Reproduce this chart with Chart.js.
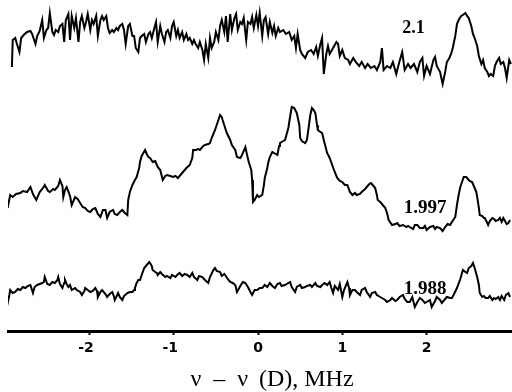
<!DOCTYPE html>
<html>
<head>
<meta charset="utf-8">
<title>Espectros</title>
<script src="https://cdn.jsdelivr.net/npm/chart.js@4.4.1/dist/chart.umd.min.js"></script>
<style>
    html, body { margin: 0; padding: 0; background: #fff; }
    #contenedor { width: 512px; height: 392px; }
</style>
</head>
<body>
<div id="contenedor"><canvas id="espectrosChart"></canvas></div>
<script>
// Traza "2.1" (frecuencia en MHz, intensidad en unidades arbitrarias)
const frec21 = [
    -2.92,-2.91,-2.88,-2.86,-2.83,-2.81,-2.78,-2.74,-2.70,-2.68,
    -2.64,-2.62,-2.59,-2.56,-2.54,-2.51,-2.49,-2.47,-2.44,-2.42,
    -2.40,-2.37,-2.35,-2.32,-2.30,-2.28,-2.25,-2.23,-2.21,-2.18,
    -2.16,-2.13,-2.11,-2.09,-2.06,-2.04,-2.02,-1.99,-1.97,-1.95,
    -1.92,-1.90,-1.87,-1.85,-1.83,-1.80,-1.78,-1.76,-1.73,-1.71,
    -1.68,-1.66,-1.64,-1.61,-1.59,-1.57,-1.54,-1.52,-1.49,-1.47,
    -1.45,-1.42,-1.40,-1.38,-1.35,-1.33,-1.30,-1.28,-1.26,-1.23,
    -1.21,-1.19,-1.16,-1.14,-1.11,-1.09,-1.07,-1.04,-1.02,-1.00,
    -0.97,-0.95,-0.93,-0.90,-0.88,-0.85,-0.83,-0.81,-0.78,-0.76,
    -0.74,-0.71,-0.69,-0.66,-0.64,-0.62,-0.59,-0.57,-0.55,-0.52,
    -0.50,-0.47,-0.45,-0.43,-0.40,-0.38,-0.36,-0.33,-0.31,-0.28,
    -0.26,-0.24,-0.21,-0.19,-0.17,-0.14,-0.12,-0.09,-0.07,-0.05,
    -0.02,0.00,0.02,0.05,0.07,0.09,0.12,0.14,0.17,0.19,
    0.21,0.24,0.26,0.30,0.33,0.37,0.40,0.43,0.45,0.47,
    0.50,0.52,0.56,0.59,0.63,0.66,0.69,0.71,0.74,0.76,
    0.78,0.81,0.83,0.85,0.89,0.93,0.95,0.97,1.00,1.03,
    1.07,1.09,1.13,1.16,1.20,1.23,1.27,1.30,1.34,1.38,
    1.41,1.45,1.47,1.49,1.53,1.57,1.60,1.64,1.67,1.71,
    1.74,1.78,1.81,1.85,1.89,1.92,1.95,1.97,2.00,2.04,
    2.08,2.10,2.12,2.16,2.19,2.22,2.24,2.27,2.29,2.31,
    2.34,2.36,2.38,2.41,2.43,2.46,2.48,2.50,2.53,2.55,
    2.57,2.60,2.62,2.65,2.67,2.69,2.72,2.74,2.76,2.79,
    2.81,2.83,2.86,2.88,2.91,2.93,2.95,2.98,3.00
];
const int21 = [
    23,50,52,46,38,52,55,58,59,56,
    46,54,59,70,52,60,62,77,58,55,
    60,58,64,66,48,70,76,50,74,62,
    72,48,68,74,62,68,76,60,70,66,
    74,54,70,74,70,74,62,57,60,58,
    62,60,64,66,60,46,64,66,54,54,
    42,38,52,54,56,48,56,58,52,62,
    68,48,64,56,48,58,60,52,64,68,
    54,60,52,58,50,56,50,52,46,50,
    46,42,48,40,30,46,32,52,42,48,
    58,50,64,70,58,74,48,76,60,72,
    76,60,68,66,72,50,68,66,73,62,
    75,64,77,54,70,73,56,68,57,64,
    54,62,58,60,56,58,50,54,42,56,
    40,36,32,38,40,36,43,34,46,52,
    16,36,44,36,42,48,46,34,40,32,
    30,26,32,28,24,28,22,26,22,24,
    20,28,42,20,24,22,28,16,26,38,
    20,26,22,26,18,28,32,14,24,16,
    30,33,24,18,6,18,28,32,36,42,
    54,66,70,74,75,77,74,72,64,56,
    52,44,34,26,30,22,18,14,16,14,
    24,28,32,26,28,22,12,30,26
];

// Traza "1.997"
const frec1997 = [
    -2.97,-2.94,-2.91,-2.87,-2.82,-2.79,-2.74,-2.70,-2.67,-2.63,
    -2.59,-2.55,-2.53,-2.49,-2.47,-2.43,-2.41,-2.37,-2.35,-2.32,
    -2.31,-2.29,-2.27,-2.23,-2.21,-2.17,-2.14,-2.11,-2.08,-2.05,
    -2.02,-1.99,-1.96,-1.93,-1.90,-1.87,-1.84,-1.81,-1.79,-1.76,
    -1.72,-1.70,-1.67,-1.64,-1.61,-1.58,-1.55,-1.54,-1.52,-1.49,
    -1.46,-1.44,-1.41,-1.40,-1.38,-1.34,-1.32,-1.30,-1.28,-1.25,
    -1.22,-1.19,-1.16,-1.13,-1.10,-1.08,-1.04,-1.01,-0.98,-0.95,
    -0.93,-0.89,-0.85,-0.81,-0.78,-0.77,-0.74,-0.71,-0.69,-0.65,
    -0.63,-0.59,-0.57,-0.55,-0.51,-0.47,-0.45,-0.43,-0.42,-0.39,
    -0.37,-0.33,-0.31,-0.27,-0.25,-0.21,-0.19,-0.15,-0.13,-0.11,
    -0.08,-0.07,-0.06,-0.04,-0.01,0.01,0.05,0.07,0.08,0.11,
    0.12,0.14,0.17,0.19,0.23,0.25,0.26,0.30,0.32,0.34,
    0.36,0.38,0.40,0.43,0.46,0.49,0.50,0.52,0.56,0.58,
    0.60,0.62,0.64,0.66,0.68,0.70,0.71,0.74,0.76,0.78,
    0.82,0.85,0.88,0.91,0.94,0.97,1.00,1.03,1.06,1.09,
    1.12,1.15,1.17,1.21,1.23,1.27,1.29,1.32,1.34,1.36,
    1.39,1.41,1.42,1.45,1.48,1.51,1.53,1.55,1.59,1.63,
    1.65,1.68,1.72,1.76,1.78,1.80,1.84,1.86,1.89,1.92,
    1.96,1.98,2.00,2.04,2.08,2.10,2.12,2.16,2.19,2.22,
    2.25,2.28,2.30,2.34,2.36,2.38,2.40,2.42,2.44,2.47,
    2.49,2.51,2.54,2.56,2.59,2.60,2.62,2.63,2.66,2.68,
    2.69,2.72,2.73,2.75,2.78,2.80,2.82,2.85,2.87,2.89,
    2.91,2.93,2.95,2.97,2.99
];
const int1997 = [
    27,40,38,41,42,44,43,48,41,35,
    43,47,50,44,43,46,45,49,55,49,
    38,45,48,39,30,38,36,32,28,27,
    24,23,26,27,21,18,25,25,17,23,
    25,21,20,23,25,22,20,35,43,50,
    55,58,67,73,79,85,81,78,77,73,
    74,68,65,55,59,60,59,58,59,57,
    59,63,67,70,77,85,85,86,85,89,
    90,91,92,97,105,115,120,118,115,107,
    102,95,90,85,78,77,80,88,80,73,
    65,55,33,35,40,38,40,50,57,67,
    72,78,83,82,80,89,92,94,95,101,
    107,118,128,127,122,110,97,94,92,95,
    107,120,127,125,122,110,105,103,102,95,
    82,77,70,63,57,54,53,50,50,43,
    40,42,40,41,43,46,48,51,52,50,
    47,40,35,33,30,27,22,15,10,11,
    12,9,10,8,9,8,6,10,10,7,
    7,9,5,8,9,6,8,7,4,8,
    11,10,13,18,30,40,48,53,58,58,
    56,54,53,49,43,38,27,20,19,17,
    17,12,10,14,17,16,14,15,17,13,
    17,14,11,12,15
];

// Traza "1.988"
const frec1988 = [
    -2.98,-2.95,-2.94,-2.91,-2.88,-2.85,-2.82,-2.79,-2.76,-2.73,
    -2.70,-2.67,-2.65,-2.62,-2.59,-2.56,-2.54,-2.53,-2.50,-2.47,
    -2.44,-2.41,-2.38,-2.37,-2.35,-2.32,-2.30,-2.29,-2.27,-2.25,
    -2.23,-2.21,-2.17,-2.15,-2.11,-2.09,-2.06,-2.05,-2.02,-1.99,
    -1.96,-1.93,-1.91,-1.90,-1.87,-1.85,-1.81,-1.79,-1.76,-1.73,
    -1.71,-1.70,-1.67,-1.66,-1.64,-1.61,-1.59,-1.55,-1.52,-1.49,
    -1.47,-1.46,-1.44,-1.42,-1.40,-1.38,-1.35,-1.33,-1.32,-1.29,
    -1.28,-1.26,-1.25,-1.22,-1.20,-1.19,-1.16,-1.14,-1.10,-1.08,
    -1.04,-1.02,-0.98,-0.96,-0.93,-0.90,-0.87,-0.84,-0.81,-0.78,
    -0.76,-0.72,-0.70,-0.66,-0.63,-0.59,-0.57,-0.53,-0.51,-0.49,
    -0.45,-0.43,-0.40,-0.39,-0.36,-0.33,-0.30,-0.27,-0.25,-0.21,
    -0.18,-0.15,-0.12,-0.09,-0.07,-0.04,-0.01,0.02,0.05,0.08,
    0.11,0.14,0.17,0.20,0.23,0.26,0.28,0.32,0.34,0.38,
    0.40,0.44,0.46,0.50,0.52,0.56,0.58,0.62,0.64,0.68,
    0.70,0.74,0.76,0.79,0.82,0.85,0.87,0.89,0.91,0.95,
    0.97,1.00,1.02,1.06,1.08,1.09,1.12,1.15,1.17,1.21,
    1.23,1.27,1.29,1.33,1.35,1.39,1.41,1.45,1.47,1.51,
    1.53,1.57,1.59,1.63,1.65,1.68,1.72,1.74,1.77,1.80,
    1.83,1.86,1.89,1.92,1.95,1.98,2.00,2.04,2.06,2.10,
    2.12,2.16,2.18,2.22,2.24,2.28,2.30,2.32,2.36,2.40,
    2.43,2.46,2.48,2.50,2.53,2.55,2.57,2.60,2.62,2.63,
    2.66,2.68,2.70,2.73,2.75,2.78,2.80,2.82,2.85,2.87,
    2.89,2.92,2.94,2.97,2.99
];
const int1988 = [
    3,15,20,17,18,21,20,23,22,24,
    25,17,23,25,26,27,28,33,26,25,
    28,27,30,33,26,22,27,30,26,23,
    25,20,22,20,18,15,19,22,20,18,
    19,22,19,13,18,20,16,13,16,18,
    14,10,15,17,13,10,14,17,18,18,
    20,22,27,30,30,35,42,44,45,48,
    47,44,40,38,37,35,38,36,33,34,
    32,35,33,35,37,34,36,35,33,37,
    33,30,34,33,30,27,33,40,42,39,
    38,34,36,35,31,28,27,25,18,24,
    28,27,23,18,15,20,20,22,22,25,
    23,27,24,22,26,27,24,25,26,28,
    23,18,23,25,22,23,24,25,23,27,
    24,23,25,27,25,28,22,17,24,20,
    26,13,20,28,22,15,20,20,18,15,
    20,22,18,13,17,18,15,13,12,10,
    8,10,12,9,10,13,15,11,8,8,
    13,3,8,12,10,7,8,10,3,9,
    13,10,7,11,13,12,12,15,22,31,
    40,38,37,42,44,47,42,33,25,17,
    13,14,12,12,14,10,12,11,13,10,
    14,10,15,17,13
];

const etiquetas = ['2.1', '1.997', '1.988'];
const marcasX = [-2, -1, 0, 1, 2];

let espectrosChart;

// separacion vertical de cada traza y sitio de su etiqueta (en unidades del grafico)
const desplazamientos = [241, 96, 21];
const sitioEtiquetas = [{ x: 1.71, y: 57, fuente: 'bold 18px "Liberation Serif"' },
                        { x: 1.73, y: 22, fuente: 'bold 19px "Liberation Serif"' },
                        { x: 1.73, y: 16, fuente: 'bold 19px "Liberation Serif"' }];

function armarPuntos(frec, inten, desp) {
    return frec.map((f, i) => ({ x: f, y: inten[i] + desp }));
}

const pluginEtiquetas = {
    id: 'etiquetasTrazas',
    afterDatasetsDraw(chart) {
        const c = chart.ctx;
        const escalaX = chart.scales.x;
        const escalaY = chart.scales.y;
        c.save();
        c.fillStyle = '#000';
        c.textAlign = 'left';
        c.textBaseline = 'alphabetic';
        etiquetas.forEach((texto, i) => {
            const s = sitioEtiquetas[i];
            c.font = s.fuente;
            c.fillText(texto, escalaX.getPixelForValue(s.x), escalaY.getPixelForValue(s.y + desplazamientos[i]));
        });
        c.restore();
    }
};

document.addEventListener('DOMContentLoaded', function () {
    const ctx = document.getElementById('espectrosChart').getContext('2d');
    const estiloLinea = { borderColor: '#000', borderWidth: 2, pointRadius: 0, fill: false, tension: 0 };
    espectrosChart = new Chart(ctx, {
        type: 'line',
        data: {
            datasets: [
                { label: etiquetas[0], data: armarPuntos(frec21, int21, desplazamientos[0]), ...estiloLinea },
                { label: etiquetas[1], data: armarPuntos(frec1997, int1997, desplazamientos[1]), ...estiloLinea },
                { label: etiquetas[2], data: armarPuntos(frec1988, int1988, desplazamientos[2]), ...estiloLinea }
            ]
        },
        options: {
            responsive: true,
            maintainAspectRatio: false,
            animation: false,
            devicePixelRatio: 1,
            layout: { padding: { left: 8, right: 0, top: 0, bottom: 0 } },
            plugins: {
                legend: { display: false },
                tooltip: { enabled: false }
            },
            scales: {
                x: {
                    type: 'linear',
                    position: 'bottom',
                    min: -2.966,
                    max: 3.013,
                    afterBuildTicks: function (escala) {
                        escala.ticks = marcasX.map(v => ({ value: v }));
                    },
                    afterFit: function (escala) {
                        escala.height = 61; // alto fijo para el eje de abajo
                    },
                    border: { display: true, color: '#000', width: 3 },
                    grid: { drawOnChartArea: false, drawTicks: true, tickLength: 4, tickWidth: 2, color: '#000' },
                    ticks: {
                        color: '#000',
                        padding: 5,
                        maxRotation: 0,
                        font: { family: '"DejaVu Sans"', size: 14, weight: 'bold' },
                        callback: function (valor) {
                            return valor < 0 ? '-' + Math.abs(valor) + '\u2002' : String(valor);
                        }
                    },
                    title: {
                        display: true,
                        text: '\u2003\u03bd\u2002\u2013\u2002\u03bd \u2009(D), MHz',
                        color: '#000',
                        padding: { top: 0, bottom: 0 },
                        font: { family: '"Liberation Serif"', size: 24, lineHeight: 1 }
                    }
                },
                y: {
                    display: false,
                    min: 0,
                    max: 331
                }
            }
        },
        plugins: [pluginEtiquetas]
    });
});
</script>
</body>
</html>
